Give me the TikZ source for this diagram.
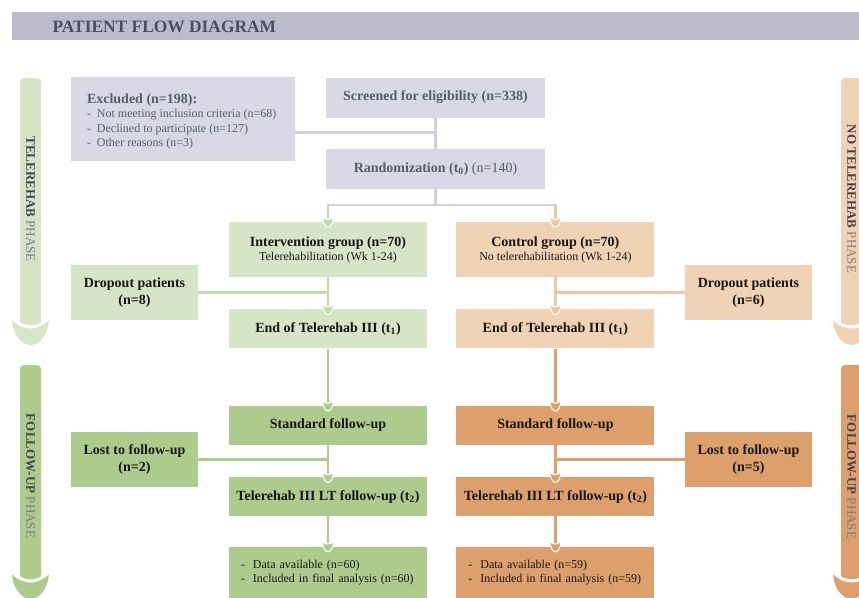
\documentclass[tikz,border=0pt]{standalone}
\usepackage{fontspec}
\setmainfont{Liberation Serif}
\usetikzlibrary{positioning, calc}
\definecolor{titlebg}{RGB}{187,187,203}
\definecolor{titlefg}{RGB}{72,77,99}
\definecolor{greybox}{RGB}{217,217,230}
\definecolor{greyfg}{RGB}{88,92,110}
\definecolor{greyln}{RGB}{208,208,222}
\definecolor{grnlite}{RGB}{215,228,199}
\definecolor{grnmid}{RGB}{174,203,142}
\definecolor{grnln}{RGB}{196,219,172}
\definecolor{tanlite}{RGB}{240,211,180}
\definecolor{tanmid}{RGB}{221,160,108}
\definecolor{tanln}{RGB}{236,199,163}
\definecolor{boxfg}{RGB}{22,22,22}
\definecolor{phasefg}{RGB}{118,123,140}
\definecolor{phasedk}{RGB}{62,66,82}

% phase bar with cup-shaped head: x centre, top, cup top, colour
\newcommand{\phasearrow}[4]{%
  \fill[#4, rounded corners=4pt] (#1-10.5,#3+12) rectangle (#1+10.5,#2);
  \fill[#4] (#1-18.5,#3) .. controls (#1-7,#3+12) and (#1+7,#3+12) .. (#1+18.5,#3)
    .. controls (#1+18.5,#3+16) and (#1+9,#3+27) .. (#1,#3+27)
    .. controls (#1-9,#3+27) and (#1-18.5,#3+16) .. cycle;
  \draw[white, line width=3pt] (#1-18.5,#3) .. controls (#1-7,#3+12) and (#1+7,#3+12) .. (#1+18.5,#3);
}

\begin{document}
\begin{tikzpicture}[x=1pt, y=-1pt,
  box/.style={minimum width=198pt, minimum height=39pt, align=center, inner sep=2pt,
    font=\fontsize{14}{17}\selectfont\bfseries, text=boxfg},
  sidebox/.style={box, minimum width=127pt, minimum height=55pt},
  greybx/.style={box, minimum width=219pt, minimum height=40pt, fill=greybox, text=greyfg},
  conn/.style={line width=2.6pt},
  phase/.style={rotate=-90, font=\fontsize{13}{15}\selectfont, text=phasefg},
  pics/tipcup/.style={code={
    \fill[#1, draw=white, line width=1.1pt] (-5.5,-5) .. controls (-2,-1.5) and (2,-1.5) .. (5.5,-5)
      .. controls (5.5,1) and (2.5,5.5) .. (0,5.5) .. controls (-2.5,5.5) and (-5.5,1) .. cycle;}}
]
  \useasboundingbox (0,0) rectangle (859,597);

  % title
  \fill[titlebg] (12,12) rectangle (859,40);
  \node[anchor=west, font=\fontsize{17.4}{20}\selectfont\bfseries, text=titlefg] (title) at (49,26.5) {PATIENT FLOW DIAGRAM};

  % phase arrows
  \phasearrow{30.5}{78}{318}{grnlite}
  \phasearrow{30.5}{365}{572}{grnmid}
  \phasearrow{851.5}{78}{318}{tanlite}
  \phasearrow{851.5}{365}{572}{tanmid}
  \node[phase] (ph1) at (30.5,199) {\textbf{\color{phasedk}TELEREHAB} PHASE};
  \node[phase] (ph2) at (30.5,476) {\textbf{\color{phasedk}FOLLOW-UP} PHASE};
  \node[phase] (ph3) at (851.5,199) {\textbf{\color{phasedk}NO TELEREHAB} PHASE};
  \node[phase] (ph4) at (851.5,477) {\textbf{\color{phasedk}FOLLOW-UP} PHASE};

  % enrolment
  \node[greybx] (scr) at (435.5,97.5) {Screened for eligibility (n=338)};
  \node[greybx, below=31pt of scr] (rand) {Randomization (t\textsubscript{0}) \mdseries(n=140)};
  \node[fill=greybox, minimum width=224pt, minimum height=84pt] (excl) at (183,119) {};
  \node[anchor=north west, align=left, inner sep=2pt, text=greyfg, font=\fontsize{14}{17}\selectfont\bfseries]
    (excltxt) at ($(excl.north west)+(14,14.5)$)
    {Excluded (n=198):\\[-2.5pt]
     {\mdseries\fontsize{12}{14.5}\selectfont -~~Not meeting inclusion criteria (n=68)}\\[-2.5pt]
     {\mdseries\fontsize{12}{14.5}\selectfont -~~Declined to participate (n=127)}\\[-2.5pt]
     {\mdseries\fontsize{12}{14.5}\selectfont -~~Other reasons (n=3)}};

  % intervention arm
  \node[box, fill=grnlite, minimum height=55pt] (ig) at (328,249.5)
    {Intervention group (n=70)\\[-3pt]{\mdseries\fontsize{12}{14}\selectfont Telerehabilitation (Wk 1-24)}};
  \node[box, fill=grnlite, below=32pt of ig] (e1) {End of Telerehab III (t\textsubscript{1})};
  \node[box, fill=grnmid, below=57pt of e1] (s1) {Standard follow-up};
  \node[box, fill=grnmid, below=32pt of s1] (t1) {Telerehab III LT follow-up (t\textsubscript{2})};
  \node[box, fill=grnmid, minimum height=52pt, text width=174pt, align=left, font=\fontsize{12}{14}\selectfont, below=30pt of t1] (f1)
    {-~~Data available (n=60)\\-~~Included in final analysis (n=60)};
  \node[sidebox, fill=grnlite] (dl) at (134.5,292.5) {Dropout patients\\(n=8)};
  \node[sidebox, fill=grnmid] (ll) at (134.5,459.5) {Lost to follow-up\\(n=2)};

  % control arm
  \node[box, fill=tanlite, minimum height=55pt, right=29pt of ig] (cg)
    {Control group (n=70)\\[-3pt]{\mdseries\fontsize{12}{14}\selectfont No telerehabilitation (Wk 1-24)}};
  \node[box, fill=tanlite, right=29pt of e1] (e2) {End of Telerehab III (t\textsubscript{1})};
  \node[box, fill=tanmid, right=29pt of s1] (s2) {Standard follow-up};
  \node[box, fill=tanmid, right=29pt of t1] (t2) {Telerehab III LT follow-up (t\textsubscript{2})};
  \node[box, fill=tanmid, minimum height=52pt, text width=174pt, align=left, font=\fontsize{12}{14}\selectfont, right=29pt of f1] (f2)
    {-~~Data available (n=59)\\-~~Included in final analysis (n=59)};
  \node[sidebox, fill=tanlite] (dr) at (748.5,292.5) {Dropout patients\\(n=6)};
  \node[sidebox, fill=tanmid] (lr) at (748.5,459.5) {Lost to follow-up\\(n=5)};

  % connectors
  \coordinate (jn) at ($(scr.south)!0.47!(rand.north)$);
  \coordinate (sp) at ($(rand.south)+(0,16)$);
  \draw[conn, greyln] (scr) -- (rand);
  \draw[conn, greyln] (excl.east |- jn) -- (jn);
  \draw[conn, greyln] (rand) -- (sp);
  \draw[conn, greyln, line cap=rect] (ig.north |- sp) -- (cg.north |- sp);
  \draw[conn, grnln] (ig.north |- sp) -- (ig.north);
  \draw[conn, tanln] (cg.north |- sp) -- (cg.north);

  \draw[conn, grnln] (ig) -- (e1);
  \draw[conn, grnln] (dl.east) -- (dl.east -| ig.south);
  \draw[conn, grnmid] (e1) -- (s1);
  \draw[conn, grnmid] (s1) -- (t1);
  \draw[conn, grnmid] (ll.east) -- (ll.east -| s1.south);
  \draw[conn, grnmid] (t1) -- (f1);

  \draw[conn, tanln] (cg) -- (e2);
  \draw[conn, tanln] (dr.west) -- (dr.west -| cg.south);
  \draw[conn, tanmid] (e2) -- (s2);
  \draw[conn, tanmid] (s2) -- (t2);
  \draw[conn, tanmid] (lr.west) -- (lr.west -| s2.south);
  \draw[conn, tanmid] (t2) -- (f2);

  \foreach \n/\c in {ig/grnln, e1/grnln, s1/grnmid, t1/grnmid, f1/grnmid,
                     cg/tanln, e2/tanln, s2/tanmid, t2/tanmid, f2/tanmid}
    \pic at (\n.north) {tipcup=\c};
\end{tikzpicture}
\end{document}
